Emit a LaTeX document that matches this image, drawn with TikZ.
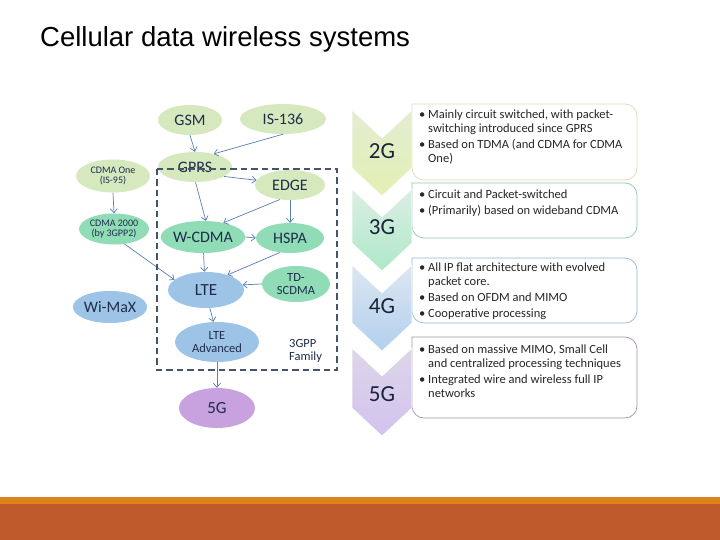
\documentclass[tikz,border=0pt]{standalone}
\usepackage{fontspec}
\setmainfont{Carlito}
\newfontfamily\titlefont{Liberation Sans}
\usetikzlibrary{shapes.geometric,arrows.meta}
\definecolor{lgreen}{HTML}{D5E8BE}
\definecolor{tgreen}{HTML}{8FDCB6}
\definecolor{lblue}{HTML}{9DC3E6}
\definecolor{lpurple}{HTML}{C8A2DE}
\definecolor{ntext}{HTML}{1F2D4A}
\definecolor{arr}{HTML}{5A7FB5}
\definecolor{dashcol}{HTML}{44546A}
\definecolor{orangeband}{HTML}{E0821A}
\definecolor{rustband}{HTML}{BE592C}
\definecolor{c2top}{HTML}{E4ECD2}
\definecolor{c2bot}{HTML}{E2F0B2}
\definecolor{c3top}{HTML}{DCEEE4}
\definecolor{c3bot}{HTML}{AEE8C8}
\definecolor{c4top}{HTML}{DDE6F0}
\definecolor{c4bot}{HTML}{B2D0EE}
\definecolor{c5top}{HTML}{DDD6E8}
\definecolor{c5bot}{HTML}{D3C2EE}
\newcommand{\bul}{\makebox[9pt][l]{\textbullet}}
\newcommand{\ind}{\hspace*{9pt}}
\begin{document}
\begin{tikzpicture}[x=1pt,y=-1pt,
  ell/.style={ellipse, inner sep=0pt, text=ntext, align=center},
  big/.style={font=\fontsize{16}{17}\selectfont},
  mid/.style={font=\fontsize{12.5}{13}\selectfont},
  small/.style={font=\fontsize{10}{10.5}\selectfont},
  conn/.style={draw=arr, line width=0.7pt, -{Straight Barb[length=4pt,width=7pt]}},
  chev/.style={draw=white, line width=0.6pt},
  chevlabel/.style={text=ntext!80!black, font=\fontsize{23}{25}\selectfont},
  infobox/.style={fill=white, line width=0.7pt},
  btext/.style={anchor=base west, inner sep=0pt, text=black!85}
]
\useasboundingbox (0,0) rectangle (720,540);
\fill[white] (0,0) rectangle (720,540);

% title
\node[anchor=base west, inner sep=0pt, font=\titlefont\fontsize{27.5}{29}\selectfont] (title) at (40,47) {Cellular data wireless systems};

% left graph nodes
\node[ell, big, fill=lgreen, minimum width=64pt, minimum height=30pt] (gsm) at (190,120) {GSM};
\node[ell, big, fill=lgreen, minimum width=86pt, minimum height=30pt] (is136) at (283,119) {IS-136};
\node[ell, big, fill=lgreen, minimum width=74pt, minimum height=30pt] (gprs) at (195,167) {GPRS};
\node[ell, small, fill=lgreen, minimum width=74pt, minimum height=33pt] (cdmaone) at (113,176) {CDMA One\\(IS-95)};
\node[ell, big, fill=lgreen, minimum width=70pt, minimum height=30pt] (edge) at (290,185) {EDGE};
\node[ell, small, fill=tgreen, minimum width=70pt, minimum height=31pt] (cdma2000) at (114,229) {CDMA 2000\\(by 3GPP2)};
\node[ell, big, fill=tgreen, minimum width=80pt, minimum height=32pt] (wcdma) at (203,237) {W-CDMA};
\node[ell, big, fill=tgreen, minimum width=68pt, minimum height=30pt] (hspa) at (290,238) {HSPA};
\node[ell, font=\fontsize{17}{18}\selectfont, fill=lblue, minimum width=76pt, minimum height=36pt] (lte) at (206,290) {LTE};
\node[ell, mid, fill=tgreen, minimum width=68pt, minimum height=36pt] (tdscdma) at (296,284) {TD-\\SCDMA};
\node[ell, big, fill=lblue, minimum width=68pt, minimum height=32pt] (wimax) at (110,307) {Wi-MaX};
\node[ell, mid, fill=lblue, minimum width=84pt, minimum height=40pt] (lteadv) at (217,342) {LTE\\Advanced};
\node[ell, font=\fontsize{17}{18}\selectfont, fill=lpurple, minimum width=76pt, minimum height=40pt] (fiveg) at (217,408) {5G};
\node[mid, anchor=west, align=left, text=ntext, inner sep=0pt] (family) at (289,351) {3GPP\\Family};

% connectors
\draw[conn] (gsm.south) -- (gprs.north);
\draw[conn] (is136.south) -- (gprs.35);
\draw[conn] (gprs.-18) -- (edge.172);
\draw[conn] (gprs.-88) -- (wcdma.80);
\draw[conn] (edge.-125) -- (wcdma.35);
\draw[conn] (edge.south) -- (hspa.north);
\draw[conn] (wcdma.east) -- (hspa.west);
\draw[conn] (cdmaone.south) -- (cdma2000.north);
\draw[conn] (cdma2000.-55) -- (lte.162);
\draw[conn] (wcdma.-88) -- (lte.95);
\draw[conn] (hspa.-125) -- (lte.35);
\draw[conn] (tdscdma.west) -- (lte.8);
\draw[conn] (lte.-78) -- (lteadv.100);
\draw[conn] (lteadv.south) -- (fiveg.north);

% dashed family frame
\draw[draw=dashcol, line width=1.6pt, dash pattern=on 6.5pt off 4pt] (157,169) rectangle (337,370);

% right: info boxes
\draw[infobox, draw=lgreen!70!olive!60] (412,104) [rounded corners=12pt] -- (637,104) -- (637,180) -- (412,180) [sharp corners] -- cycle;
\draw[infobox, draw=tgreen!80!gray] (412,183) [rounded corners=12pt] -- (637,183) -- (637,238) -- (412,238) [sharp corners] -- cycle;
\draw[infobox, draw=lblue!80!gray] (412,258) [rounded corners=12pt] -- (637,258) -- (637,323) -- (412,323) [sharp corners] -- cycle;
\draw[infobox, draw=lpurple!50!gray] (412,337) [rounded corners=12pt] -- (637,337) -- (637,418) -- (412,418) [sharp corners] -- cycle;

% chevrons
\shade[top color=c2top, bottom color=c2bot] (352,110) -- (382,138) -- (412,110) -- (412,168) -- (382,196) -- (352,168) -- cycle;
\draw[chev] (352,110) -- (382,138) -- (412,110) -- (412,168) -- (382,196) -- (352,168) -- cycle;
\shade[top color=c3top, bottom color=c3bot] (352,189) -- (382,217) -- (412,189) -- (412,243) -- (382,271) -- (352,243) -- cycle;
\draw[chev] (352,189) -- (382,217) -- (412,189) -- (412,243) -- (382,271) -- (352,243) -- cycle;
\shade[top color=c4top, bottom color=c4bot] (352,265) -- (382,293) -- (412,265) -- (412,323) -- (382,351) -- (352,323) -- cycle;
\draw[chev] (352,265) -- (382,293) -- (412,265) -- (412,323) -- (382,351) -- (352,323) -- cycle;
\shade[top color=c5top, bottom color=c5bot] (352,348) -- (382,376) -- (412,348) -- (412,408) -- (382,436) -- (352,408) -- cycle;
\draw[chev] (352,348) -- (382,376) -- (412,348) -- (412,408) -- (382,436) -- (352,408) -- cycle;

\node[chevlabel] (l2g) at (382,151) {2G};
\node[chevlabel] (l3g) at (382,227) {3G};
\node[chevlabel] (l4g) at (382,306) {4G};
\node[chevlabel] (l5g) at (382,394) {5G};

% box texts
\node[btext] (t2g) at (419,119) {\parbox[t]{215pt}{\fontsize{12.5}{14}\selectfont
\bul Mainly circuit switched, with packet-\\
\ind switching introduced since GPRS\par\vspace{2pt}
\bul Based on TDMA (and CDMA for CDMA\\
\ind One)}};
\node[btext] (t3g) at (419,199) {\parbox[t]{215pt}{\fontsize{12.5}{14}\selectfont
\bul Circuit and Packet-switched\par\vspace{2pt}
\bul (Primarily) based on wideband CDMA}};
\node[btext] (t4g) at (419,271) {\parbox[t]{215pt}{\fontsize{12.5}{14}\selectfont
\bul All IP flat architecture with evolved\\
\ind packet core.\par\vspace{2pt}
\bul Based on OFDM and MIMO\par\vspace{2pt}
\bul Cooperative processing}};
\node[btext] (t5g) at (419,353) {\parbox[t]{215pt}{\fontsize{12.5}{14}\selectfont
\bul Based on massive MIMO, Small Cell\\
\ind and centralized processing techniques\par\vspace{2pt}
\bul Integrated wire and wireless full IP\\
\ind networks}};

% bottom bands
\fill[orangeband] (0,497) rectangle (720,504);
\fill[rustband] (0,504) rectangle (720,540);
\end{tikzpicture}
\end{document}
